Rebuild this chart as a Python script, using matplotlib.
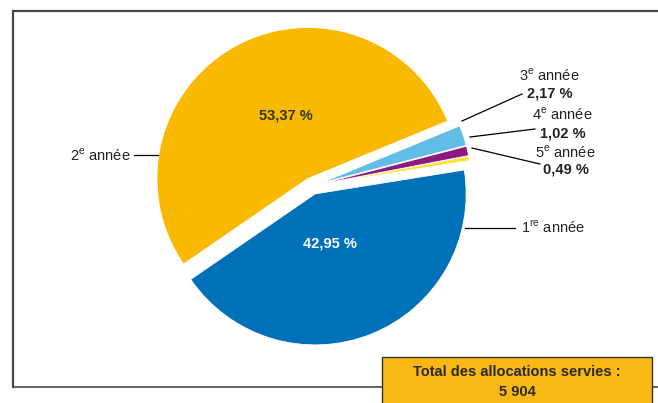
import matplotlib
matplotlib.use("Agg")
import matplotlib.pyplot as plt
import numpy as np
from matplotlib.patches import Rectangle
from matplotlib.lines import Line2D
from matplotlib import font_manager

names = {f.name for f in font_manager.fontManager.ttflist}
FONT = "Liberation Sans Narrow" if "Liberation Sans Narrow" in names else "Liberation Sans"
plt.rcParams['font.family'] = [FONT, 'DejaVu Sans']
plt.rcParams['mathtext.fontset'] = 'custom'
plt.rcParams['mathtext.rm'] = FONT

# Data (counter-clockwise order)
categories = ["1re année", "5e année", "4e année", "3e année", "2e année"]
values = [42.95, 0.49, 1.02, 2.17, 53.37]
value_labels = ["42,95 %", "0,49 %", "1,02 %", "2,17 %", "53,37 %"]
colors = ["#0070b8", "#f5e432", "#8c1a80", "#62bde6", "#f9b900"]
total_label = "Total des allocations servies :"
total_value = "5 904"

W, H = 658, 403
fig = plt.figure(figsize=(W / 100, H / 100), dpi=100)
ax = fig.add_axes([0, 0, 1, 1])

def Y(y):
    return H - y

cx, cy, R = 312, Y(186), 151
ex = 8.5
wedges, _ = ax.pie(values, colors=colors, startangle=-145.5, counterclock=True,
                   center=(cx, cy), radius=R,
                   explode=[ex, ex, ex, ex, ex],
                   wedgeprops=dict(linewidth=0.6, edgecolor='white'))
ax.set_xlim(0, W)
ax.set_ylim(0, H)
ax.set_aspect('equal')
ax.axis('off')

# Frame lines
lc = "#4a4a4a"
ax.add_line(Line2D([13, W], [Y(11), Y(11)], color=lc, lw=1.6))
ax.add_line(Line2D([13, 13], [Y(11), Y(387)], color=lc, lw=1.6))
ax.add_line(Line2D([13, W], [Y(387), Y(387)], color=lc, lw=1.2))

tfs = 10.5
# Percentages inside
ax.text(286, Y(116), value_labels[4], ha='center', va='center', fontsize=tfs,
        fontweight='bold', color='#333333')
ax.text(330, Y(243), value_labels[0], ha='center', va='center', fontsize=tfs,
        fontweight='bold', color='white')

tc = "#222222"
# 2e année
ax.text(131, Y(155), "2$^{\\mathrm{e}}$ année", ha='right', va='center', fontsize=tfs, color=tc)
ax.add_line(Line2D([134, 158], [Y(155), Y(155)], color='black', lw=0.9))
# 1re année
ax.text(521, Y(228), "1$^{\\mathrm{re}}$ année", ha='left', va='center', fontsize=tfs, color=tc)
ax.add_line(Line2D([465, 515], [Y(228), Y(228)], color='black', lw=0.9))
# 3e
ax.text(549, Y(75), "3$^{\\mathrm{e}}$ année", ha='center', va='center', fontsize=tfs, color=tc)
ax.text(550, Y(94), value_labels[3], ha='center', va='center', fontsize=tfs, fontweight='bold', color=tc)
ax.add_line(Line2D([462, 522], [Y(121), Y(94)], color='black', lw=0.9))
# 4e
ax.text(562, Y(114), "4$^{\\mathrm{e}}$ année", ha='center', va='center', fontsize=tfs, color=tc)
ax.text(563, Y(133), value_labels[2], ha='center', va='center', fontsize=tfs, fontweight='bold', color=tc)
ax.add_line(Line2D([470, 535], [Y(137), Y(129)], color='black', lw=0.9))
# 5e
ax.text(565, Y(152), "5$^{\\mathrm{e}}$ année", ha='center', va='center', fontsize=tfs, color=tc)
ax.text(566, Y(170), value_labels[1], ha='center', va='center', fontsize=tfs, fontweight='bold', color=tc)
ax.add_line(Line2D([472, 540], [Y(148), Y(164)], color='black', lw=0.9))

# Total box
ax.add_patch(Rectangle((382, Y(410)), 270, 53, facecolor="#fab815",
                       edgecolor="#333333", lw=1.0, zorder=5))
ax.text(517, Y(372), total_label, ha='center', va='center', fontsize=tfs,
        fontweight='bold', color='#2a2a2a', zorder=6)
ax.text(517, Y(392), total_value, ha='center', va='center', fontsize=tfs,
        fontweight='bold', color='#2a2a2a', zorder=6)

fig.savefig("out.png", dpi=100)
